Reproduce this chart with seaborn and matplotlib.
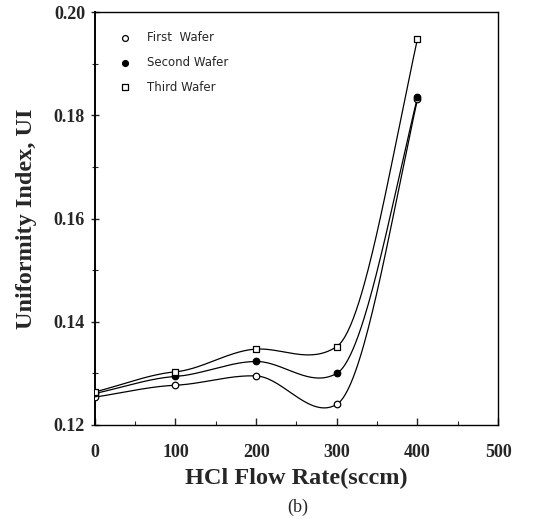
import numpy as np
import pandas as pd
import matplotlib
matplotlib.use("Agg")
import matplotlib.pyplot as plt
import seaborn as sns
from matplotlib.ticker import MultipleLocator

flow = [0, 100, 200, 300, 400]
first_wafer = [0.1254, 0.1277, 0.1295, 0.1240, 0.1831]
second_wafer = [0.1261, 0.1294, 0.1323, 0.1300, 0.1835]
third_wafer = [0.1264, 0.1303, 0.1347, 0.1352, 0.1948]
series_names = ["First  Wafer", "Second Wafer", "Third Wafer"]
x_ticks = [0, 100, 200, 300, 400, 500]
y_ticks = [0.12, 0.14, 0.16, 0.18, 0.20]


def cardinal_spline(x, y, tension=0.35, n=60):
    """Smooth curve through the points: Hermite segments with scaled
    central-difference tangents inside and one-sided slopes at the ends."""
    x = np.asarray(x, float)
    y = np.asarray(y, float)
    k = len(x)
    m = np.zeros(k)
    for i in range(1, k - 1):
        m[i] = tension * (y[i + 1] - y[i - 1]) / (x[i + 1] - x[i - 1])
    m[0] = (y[1] - y[0]) / (x[1] - x[0])
    m[-1] = 1.2 * (y[-1] - y[-2]) / (x[-1] - x[-2])
    xs_all, ys_all = [], []
    for i in range(k - 1):
        h = x[i + 1] - x[i]
        t = np.linspace(0, 1, n, endpoint=(i == k - 2))
        h00 = 2 * t**3 - 3 * t**2 + 1
        h10 = t**3 - 2 * t**2 + t
        h01 = -2 * t**3 + 3 * t**2
        h11 = t**3 - t**2
        xs_all.append(x[i] + t * h)
        ys_all.append(h00 * y[i] + h10 * h * m[i] + h01 * y[i + 1] + h11 * h * m[i + 1])
    return np.concatenate(xs_all), np.concatenate(ys_all)


sns.set_style("white")
plt.rcParams["font.family"] = ["Liberation Serif", "DejaVu Serif"]

fig = plt.figure(figsize=(5.45, 5.24), dpi=100)
ax = fig.add_axes([0.174, 0.189, 0.740, 0.788])

pts = pd.DataFrame({
    "flow": flow * 3,
    "ui": first_wafer + second_wafer + third_wafer,
    "series": [series_names[0]] * 5 + [series_names[1]] * 5 + [series_names[2]] * 5,
})

curves = []
for name, vals in zip(series_names, [first_wafer, second_wafer, third_wafer]):
    xs, ys = cardinal_spline(flow, vals)
    curves.append(pd.DataFrame({"flow": xs, "ui": ys, "series": name}))
curves = pd.concat(curves)

sns.lineplot(data=curves, x="flow", y="ui", units="series", estimator=None,
             color="black", lw=0.9, ax=ax, legend=False, sort=False)

markers = {series_names[0]: "o", series_names[1]: "o", series_names[2]: "s"}
faces = {series_names[0]: "white", series_names[1]: "black", series_names[2]: "white"}
for name in series_names:
    sub = pts[pts.series == name]
    sns.scatterplot(data=sub, x="flow", y="ui", marker=markers[name], s=22,
                    facecolor=faces[name], edgecolor="black", linewidth=0.9,
                    ax=ax, label=name, zorder=3)

ax.set_xlim(0, 500)
ax.set_ylim(0.12, 0.20)
ax.set_xticks(x_ticks)
ax.set_yticks(y_ticks)
ax.set_xticklabels([str(t) for t in x_ticks])
ax.set_yticklabels([f"{t:.2f}" for t in y_ticks])
ax.xaxis.set_minor_locator(MultipleLocator(50))
ax.yaxis.set_minor_locator(MultipleLocator(0.01))
ax.tick_params(axis="x", which="major", direction="in", length=5, width=1,
               labelsize=13, pad=14, bottom=True, top=False)
ax.tick_params(axis="x", which="minor", direction="in", length=3, width=0.8,
               bottom=True, top=False)
ax.tick_params(axis="y", which="major", direction="inout", length=6, width=1,
               labelsize=13, pad=4, left=True, right=False)
ax.tick_params(axis="y", which="minor", direction="inout", length=4, width=0.8,
               left=True, right=False)
for lab in ax.get_xticklabels() + ax.get_yticklabels():
    lab.set_fontweight("bold")
for sp in ax.spines.values():
    sp.set_color("black")
    sp.set_linewidth(1.0)
ax.spines["left"].set_linewidth(1.4)

ax.set_xlabel("HCl Flow Rate(sccm)", fontsize=17.5, fontweight="bold", labelpad=5)
ax.set_ylabel("Uniformity Index, UI", fontsize=17.5, fontweight="bold", labelpad=12)

leg = ax.legend(loc="upper left", bbox_to_anchor=(0.02, 0.98), frameon=False,
                prop={"family": "DejaVu Sans", "size": 8.5}, handletextpad=0.8,
                labelspacing=1.0, markerscale=0.9)

fig.text(0.546, 0.016, "(b)", ha="center", va="bottom", fontsize=13)

fig.savefig("out.png", dpi=100, facecolor="white")
